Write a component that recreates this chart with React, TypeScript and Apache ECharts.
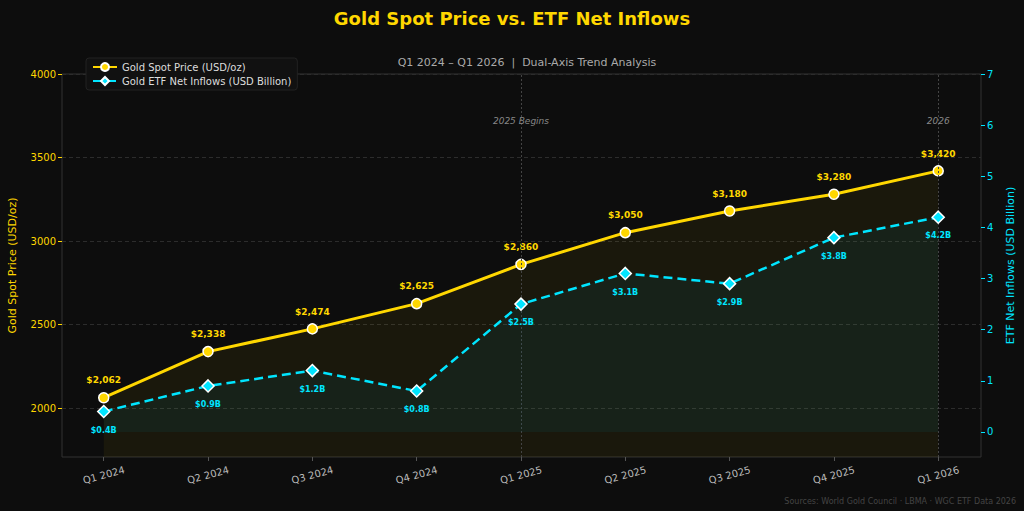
import React, { useEffect, useRef } from 'react';
import * as echarts from 'echarts';

// Quarterly series
const quarters = ['Q1 2024', 'Q2 2024', 'Q3 2024', 'Q4 2024', 'Q1 2025', 'Q2 2025', 'Q3 2025', 'Q4 2025', 'Q1 2026'];
const goldPrice = [2062, 2338, 2474, 2625, 2860, 3050, 3180, 3280, 3420];
const etfInflows = [0.4, 0.9, 1.2, 0.8, 2.5, 3.1, 2.9, 3.8, 4.2];

// Axis ticks
const priceTicks = [2000, 2500, 3000, 3500, 4000];
const flowTicks = [0, 1, 2, 3, 4, 5, 6, 7];
const quarterTicks = [0, 1, 2, 3, 4, 5, 6, 7, 8];

// Period markers (category index, caption)
const periodMarkers = [
  { index: 4, text: '2025 Begins' },
  { index: 8, text: '2026' },
];

const GOLD = '#FFD700';
const CYAN = '#00E5FF';
const FONT = 'DejaVu Sans';

export default function App() {
  const ref = useRef<HTMLDivElement>(null);

  useEffect(() => {
    if (!ref.current) return;
    const chart = echarts.init(ref.current, undefined, { renderer: 'svg' });

    const option: any = {
      animation: false,
      backgroundColor: '#0d0d0d',
      textStyle: { fontFamily: FONT },
      title: [
        {
          text: 'Gold Spot Price vs. ETF Net Inflows',
          left: 'center',
          top: 4,
          textStyle: { color: GOLD, fontSize: 18, fontWeight: 'bold', fontFamily: FONT },
        },
        {
          text: 'Q1 2024 \u2013 Q1 2026  |  Dual-Axis Trend Analysis',
          left: 522,
          textAlign: 'center',
          top: 52,
          textStyle: { color: '#aaaaaa', fontSize: 11, fontWeight: 'normal', fontFamily: FONT },
        },
      ],
      legend: {
        orient: 'vertical',
        left: 86,
        top: 58,
        itemGap: 4,
        itemWidth: 24,
        itemHeight: 10,
        padding: [4, 6, 4, 6],
        backgroundColor: '#111111',
        borderColor: '#222222',
        borderWidth: 1,
        borderRadius: 3,
        textStyle: { color: '#dddddd', fontSize: 10, fontFamily: FONT },
        data: ['Gold Spot Price (USD/oz)', 'Gold ETF Net Inflows (USD Billion)'],
      },
      grid: {
        left: 62,
        right: 43,
        top: 74,
        bottom: 54,
        outerBoundsMode: 'none',
        containLabel: false,
        show: true,
        borderColor: '#333333',
        borderWidth: 1,
      },
      xAxis: {
        type: 'value',
        min: -0.4,
        max: 8.41,
        axisLine: { show: false, onZero: false },
        splitLine: { show: false },
        axisTick: { show: true, customValues: quarterTicks, length: 4, lineStyle: { color: '#555555' } },
        axisLabel: {
          customValues: quarterTicks,
          color: '#bbbbbb',
          fontSize: 10,
          rotate: 15,
          align: 'center',
          verticalAlign: 'middle',
          margin: 18,
          fontFamily: FONT,
          formatter: (v: number) => (Number.isInteger(v) && quarters[v] ? quarters[v] : ''),
        },
      },
      yAxis: [
        {
          type: 'value',
          min: 1707,
          max: 4000,
          splitNumber: 5,
          position: 'left',
          name: 'Gold Spot Price (USD/oz)',
          nameLocation: 'middle',
          nameGap: 44,
          nameTextStyle: { color: GOLD, fontSize: 11, fontFamily: FONT },
          axisLine: { show: false, onZero: false },
          axisTick: { show: true, customValues: priceTicks, length: 4, lineStyle: { color: GOLD } },
          axisLabel: {
            customValues: priceTicks,
            color: GOLD,
            fontSize: 10,
            margin: 6,
            fontFamily: FONT,
            formatter: (v: number) => String(v),
          },
          splitLine: { show: true, lineStyle: { color: '#2c2c2c', type: [4, 3], width: 1 } },
        },
        {
          type: 'value',
          min: -0.49,
          max: 7,
          splitNumber: 7,
          position: 'right',
          name: 'ETF Net Inflows (USD Billion)',
          nameLocation: 'middle',
          nameGap: 24,
          nameTextStyle: { color: CYAN, fontSize: 11, fontFamily: FONT },
          axisLine: { show: false, onZero: false },
          axisTick: { show: true, customValues: flowTicks, length: 4, lineStyle: { color: CYAN } },
          axisLabel: {
            customValues: flowTicks,
            color: CYAN,
            fontSize: 10,
            margin: 6,
            fontFamily: FONT,
            formatter: (v: number) => String(v),
          },
          splitLine: { show: false },
        },
      ],
      series: [
        {
          name: 'Gold Spot Price (USD/oz)',
          type: 'line',
          yAxisIndex: 0,
          data: goldPrice.map((v, i) => [i, v]),
          z: 4,
          lineStyle: { color: GOLD, width: 3 },
          symbol: 'circle',
          symbolSize: 10,
          itemStyle: { color: GOLD, borderColor: '#ffffff', borderWidth: 1.5 },
          areaStyle: { color: 'rgba(255,215,0,0.08)' },
          label: {
            show: true,
            position: 'top',
            distance: 7,
            color: GOLD,
            fontSize: 9,
            fontWeight: 'bold',
            fontFamily: FONT,
            formatter: (p: any) => '$' + p.value[1].toLocaleString('en-US'),
          },
          markLine: {
            silent: true,
            symbol: 'none',
            label: { show: false },
            lineStyle: { color: '#444444', type: [2, 2], width: 1 },
            data: periodMarkers.map((m) => ({ xAxis: m.index })),
          },
          markPoint: {
            silent: true,
            symbol: 'circle',
            symbolSize: 0,
            label: {
              show: true,
              position: 'inside',
              color: '#888888',
              fontStyle: 'italic',
              fontSize: 9,
              fontFamily: FONT,
              formatter: (p: any) => p.name,
            },
            data: periodMarkers.map((m) => ({ name: m.text, coord: [m.index, 3720] })),
          },
        },
        {
          name: 'Gold ETF Net Inflows (USD Billion)',
          type: 'line',
          yAxisIndex: 1,
          data: etfInflows.map((v, i) => [i, v]),
          z: 5,
          lineStyle: { color: CYAN, width: 2.5, type: [9, 5] },
          symbol: 'diamond',
          symbolSize: 12,
          itemStyle: { color: CYAN, borderColor: '#ffffff', borderWidth: 1.5 },
          areaStyle: { color: 'rgba(0,150,170,0.12)' },
          label: {
            show: true,
            position: 'bottom',
            distance: 8,
            color: CYAN,
            fontSize: 8,
            fontWeight: 'bold',
            fontFamily: FONT,
            formatter: (p: any) => '$' + p.value[1].toFixed(1) + 'B',
          },
        },
      ],
      graphic: [
        {
          type: 'text',
          right: 8,
          bottom: 6,
          style: {
            text: 'Sources: World Gold Council \u00b7 LBMA \u00b7 WGC ETF Data 2026',
            fill: '#444444',
            fontSize: 8,
            fontFamily: FONT,
          },
        },
      ],
    };

    chart.setOption(option);
    return () => chart.dispose();
  }, []);

  return (
    <div
      ref={ref}
      style={{ position: 'absolute', left: 0, top: 0, width: 1024, height: 511, background: '#0d0d0d' }}
    />
  );
}
